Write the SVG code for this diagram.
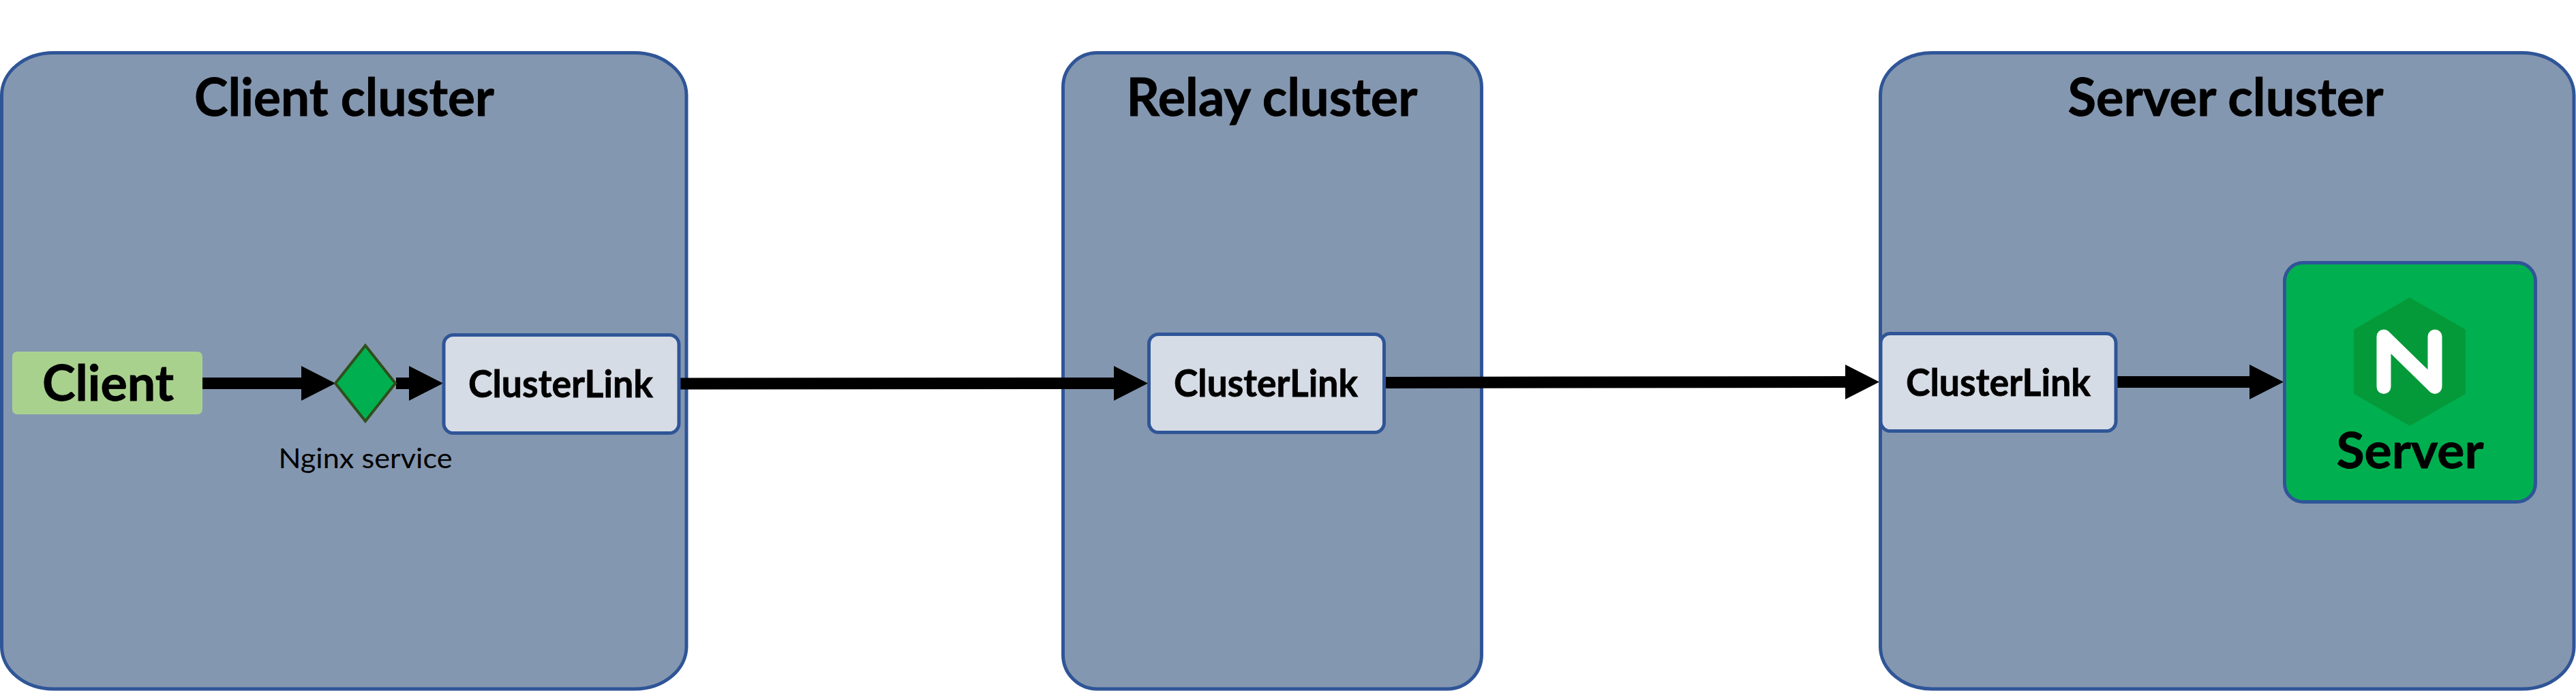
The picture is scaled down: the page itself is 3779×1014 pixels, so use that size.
<svg xmlns="http://www.w3.org/2000/svg" width="3779" height="1014" viewBox="0 0 3779 1014">
<style>
text{font-family:Lato,"Liberation Sans",sans-serif;fill:#000;text-anchor:middle}
.b{font-weight:700;stroke:#000;stroke-width:.8}
.t{font-size:76px}
.c{font-size:56px}
.cluster{fill:#8497b0;stroke:#2f5597;stroke-width:5}
.cl{fill:#d6dce5;stroke:#2f5597;stroke-width:5}
.conn{stroke:#000;stroke-width:17;fill:none;marker-end:url(#head)}
</style>
<defs>
<marker id="head" markerUnits="userSpaceOnUse" markerWidth="50" markerHeight="51" refX="1" refY="25.5" orient="auto" overflow="visible"><path d="M0 0L50 25.5L0 51Z" fill="#000"/></marker>
</defs>
<rect width="3779" height="1014" fill="#fff"/>
<g id="client-cluster"><rect class="cluster" x="2.500" y="77.500" width="1004.500" height="933.500" rx="76" ry="62"/><text class="b t" x="505" y="170" textLength="440" lengthAdjust="spacingAndGlyphs">Client cluster</text></g>
<g id="relay-cluster"><rect class="cluster" x="1559.500" y="77.500" width="614" height="933.500" rx="50" ry="50"/><text class="b t" x="1866" y="170" textLength="427" lengthAdjust="spacingAndGlyphs">Relay cluster</text></g>
<g id="server-cluster"><rect class="cluster" x="2758.500" y="77.500" width="1017.500" height="933.500" rx="76" ry="62"/><text class="b t" x="3265" y="170" textLength="463" lengthAdjust="spacingAndGlyphs">Server cluster</text></g>
<g id="connectors">
<line class="conn" x1="297" y1="562.500" x2="443" y2="562.500"/>
<line class="conn" x1="581" y1="562.500" x2="601" y2="562.500"/>
<line class="conn" x1="997" y1="563" x2="1635" y2="562.500"/>
<line class="conn" x1="2032" y1="561.500" x2="2708" y2="560.500"/>
<line class="conn" x1="3106" y1="560.500" x2="3301" y2="560.500"/>
</g>
<g id="client"><rect x="18" y="516" width="279" height="92" rx="7" fill="#a9d18e"/><text class="b" font-size="73" x="158.500" y="588" textLength="193" lengthAdjust="spacingAndGlyphs">Client</text></g>
<g id="nginx-service"><path d="M536 507L580 562.500L536 618L492 562.500Z" fill="#00b050" stroke="#2f4f1b" stroke-width="4"/><text font-size="40" x="536" y="687" textLength="255" lengthAdjust="spacingAndGlyphs">Nginx service</text></g>
<g id="clusterlink-client"><rect class="cl" x="651" y="491.500" width="345" height="144" rx="14"/><text class="b c" x="822.500" y="583" textLength="271" lengthAdjust="spacingAndGlyphs">ClusterLink</text></g>
<g id="clusterlink-relay"><rect class="cl" x="1685.500" y="490.500" width="345" height="144" rx="14"/><text class="b c" x="1857" y="582" textLength="270" lengthAdjust="spacingAndGlyphs">ClusterLink</text></g>
<g id="clusterlink-server"><rect class="cl" x="2759" y="489.500" width="345" height="143" rx="14"/><text class="b c" x="2931.500" y="581" textLength="271" lengthAdjust="spacingAndGlyphs">ClusterLink</text></g>
<g id="server"><rect x="3351.500" y="385.500" width="368" height="351" rx="27" fill="#00b050" stroke="#2f5597" stroke-width="5"/>
<path d="M3535 436.500L3617 483.500V578L3535 625L3453 578V483.500Z" fill="#059a39"/>
<path d="M3497 567.500V494L3572 567.500V494" fill="none" stroke="#fff" stroke-width="21" stroke-linecap="round" stroke-linejoin="round"/>
<text class="b" font-size="73" x="3535.500" y="687" textLength="216" lengthAdjust="spacingAndGlyphs">Server</text></g>
</svg>
